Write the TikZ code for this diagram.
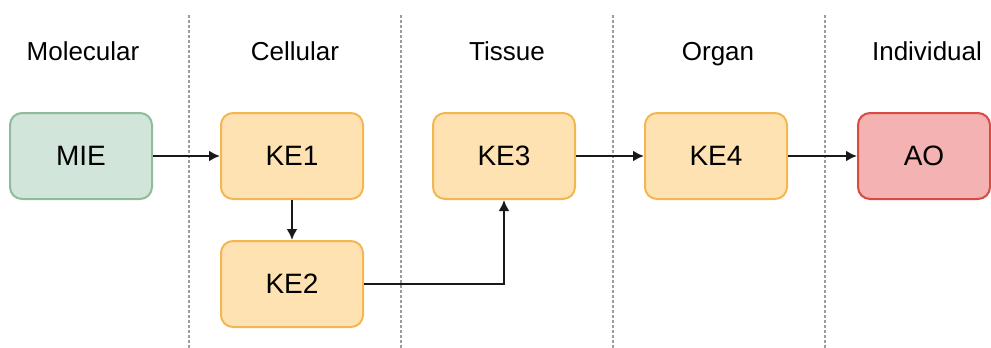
\documentclass[tikz,border=0pt]{standalone}
\usepackage{fontspec}
\setmainfont{Liberation Sans}
\usetikzlibrary{arrows.meta}

\definecolor{miefill}{HTML}{D2E5DA}
\definecolor{miedraw}{HTML}{8FBC9C}
\definecolor{kefill}{HTML}{FFE2B2}
\definecolor{kedraw}{HTML}{F4B650}
\definecolor{aofill}{HTML}{F4B2B2}
\definecolor{aodraw}{HTML}{D94A42}
\definecolor{sepgray}{HTML}{9C9C9C}

\begin{document}
\begin{tikzpicture}[x=0.5pt, y=-0.5pt,
    box/.style={rounded corners=6pt, line width=1pt, minimum width=71pt, minimum height=43pt,
        font=\fontsize{14}{16}\selectfont},
    miebox/.style={box, fill=miefill, draw=miedraw},
    kebox/.style={box, fill=kefill, draw=kedraw},
    aobox/.style={box, fill=aofill, draw=aodraw, minimum width=66pt},
    level/.style={anchor=base, font=\fontsize{13}{15}\selectfont},
    sep/.style={draw=sepgray, line width=1pt, dash pattern=on 1.5pt off 1pt},
    link/.style={-{Latex[length=5.5pt, width=5.5pt]}, line width=1.2pt, draw=black!90}]
    \useasboundingbox (0,0) rectangle (991,348);

    % level separators
    \foreach \x in {189, 401, 613, 825}
        \draw[sep] (\x,15) -- (\x,348);

    % level headings
    \node[level] (molecular) at (83,61) {Molecular};
    \node[level] (cellular) at (295,61) {Cellular};
    \node[level] (tissue) at (507,61) {Tissue};
    \node[level] (organ) at (718,61) {Organ};
    \node[level] (individual) at (927,61) {Individual};

    % events
    \node[miebox] (mie) at (81,156) {MIE};
    \node[kebox] (ke1) at (292,156) {KE1};
    \node[kebox] (ke2) at (292,284) {KE2};
    \node[kebox] (ke3) at (504,156) {KE3};
    \node[kebox] (ke4) at (716,156) {KE4};
    \node[aobox] (ao) at (924,156) {AO};

    % pathway
    \draw[link] (mie) -- (ke1);
    \draw[link] (ke1) -- (ke2);
    \draw[link] (ke2.east) -| (ke3.south);
    \draw[link] (ke3) -- (ke4);
    \draw[link] (ke4) -- (ao);
\end{tikzpicture}
\end{document}
